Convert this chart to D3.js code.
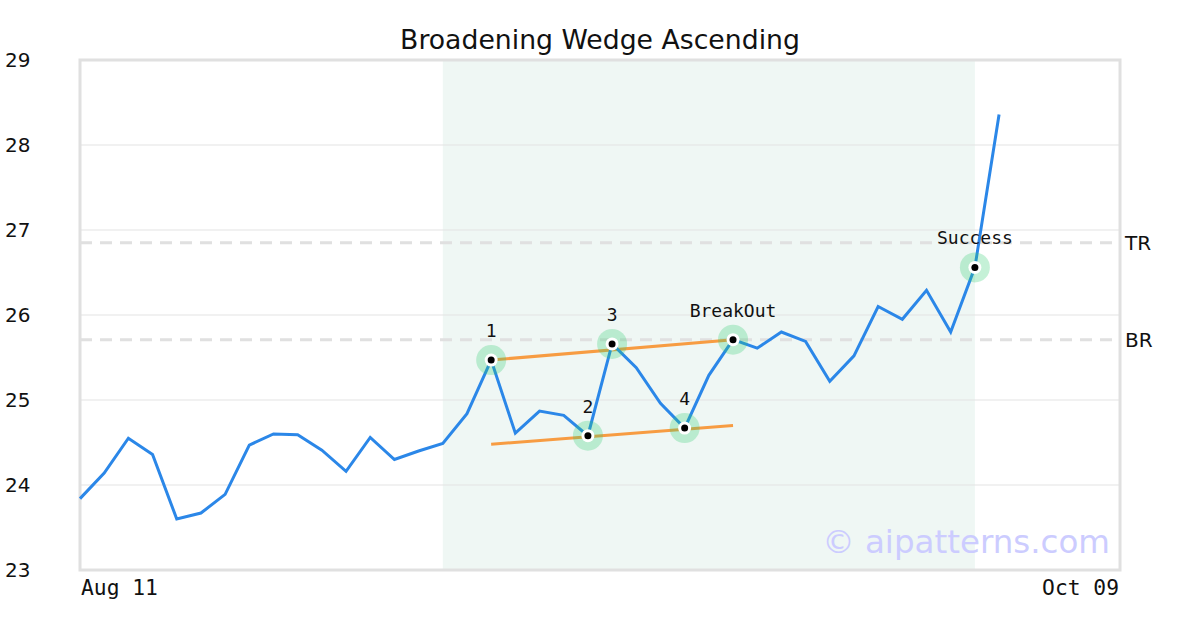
<!DOCTYPE html>
<html><head><meta charset="utf-8">
<script src="https://cdn.jsdelivr.net/npm/d3@7"></script>
<style>body{margin:0;background:#fff}svg{display:block}</style>
</head><body>
<svg id="c" width="1200" height="630"></svg>
<script>
const title = "Broadening Wedge Ascending";
const prices = [23.84,24.14,24.55,24.36,23.60,23.67,23.89,24.47,24.60,24.59,24.41,24.16,24.56,24.30,24.40,24.49,24.84,25.47,24.61,24.87,24.82,24.58,25.66,25.38,24.96,24.67,25.29,25.71,25.61,25.80,25.69,25.22,25.52,26.10,25.95,26.29,25.80,26.56,28.36];
const xDomain = [0, 43];
const yTicks = [23,24,25,26,27,28,29];
const xTickLabels = [{i:0,label:"Aug 11",anchor:"start"},{i:43,label:"Oct 09",anchor:"end"}];
const shadeRange = [15, 37];
const pivots = [{i:17,label:"1"},{i:21,label:"2"},{i:22,label:"3"},{i:25,label:"4"},{i:27,label:"BreakOut"},{i:37,label:"Success"}];
const upperLine = [{i:17,v:25.47},{i:27,v:25.71}];
const lowerLine = [{i:17,v:24.48},{i:27,v:24.70}];
const levels = [{v:26.85,label:"TR"},{v:25.71,label:"BR"}];
const watermark = "© aipatterns.com";

const svg = d3.select("#c");
const L=80,R=1120,T=60,B=570;
const x = d3.scaleLinear().domain(xDomain).range([L,R]);
const y = d3.scaleLinear().domain([23,29]).range([B,T]);

svg.append("rect").attr("x",x(shadeRange[0])).attr("y",T).attr("width",x(shadeRange[1])-x(shadeRange[0])).attr("height",B-T).attr("fill","#eff7f4");
svg.append("g").selectAll("line").data(yTicks.slice(1,-1)).join("line")
  .attr("x1",L).attr("x2",R).attr("y1",d=>y(d)).attr("y2",d=>y(d)).attr("stroke","#e3e3e3").attr("stroke-width",1);
svg.append("g").selectAll("line").data(levels).join("line")
  .attr("x1",L).attr("x2",R).attr("y1",d=>y(d.v)).attr("y2",d=>y(d.v))
  .attr("stroke","#e0e0e0").attr("stroke-width",3).attr("stroke-dasharray","12,8");
svg.append("g").selectAll("text").data(levels).join("text")
  .attr("x",R+5).attr("y",d=>y(d.v)).attr("dy","0.36em").text(d=>d.label)
  .attr("font-family","DejaVu Sans").attr("font-size",20).attr("fill","#111");
svg.append("rect").attr("x",L).attr("y",T).attr("width",R-L).attr("height",B-T).attr("fill","none").attr("stroke","#e0e0e0").attr("stroke-width",3);
svg.append("text").attr("x",1110).attr("y",553).attr("text-anchor","end").text(watermark)
  .attr("font-family","DejaVu Sans").attr("font-size",32.5).attr("fill","#ccccff");
const ln = d3.line().x(d=>x(d.i)).y(d=>y(d.v));
[upperLine,lowerLine].forEach(dd=>svg.append("path").attr("d",ln(dd)).attr("fill","none").attr("stroke","#f79c42").attr("stroke-width",3));
svg.append("path").attr("d",d3.line().x((d,i)=>x(i)).y(d=>y(d))(prices)).attr("fill","none").attr("stroke","#2b87e8").attr("stroke-width",3).attr("stroke-linejoin","miter");
const g = svg.append("g").selectAll("g").data(pivots).join("g").attr("transform",d=>`translate(${x(d.i)},${y(prices[d.i])})`);
g.append("circle").attr("r",15).attr("fill","#2ecc71").attr("fill-opacity",0.28);
g.append("circle").attr("r",6.5).attr("fill","#fff");
g.append("circle").attr("r",3.5).attr("fill","#000");
g.append("text").attr("y",-23).attr("text-anchor","middle").text(d=>d.label)
  .attr("font-family","DejaVu Sans Mono").attr("font-size",18).attr("fill","#111");
svg.append("g").selectAll("text").data(yTicks).join("text")
  .attr("x",5).attr("y",d=>y(d)).attr("dy","0.36em").text(d=>d)
  .attr("font-family","DejaVu Sans").attr("font-size",20).attr("fill","#111");
svg.append("g").selectAll("text").data(xTickLabels).join("text")
  .attr("x",d=>d.anchor==="start"?x(d.i)+1:x(d.i)-1).attr("y",595).attr("text-anchor",d=>d.anchor).text(d=>d.label)
  .attr("font-family","DejaVu Sans Mono").attr("font-size",21.3).attr("fill","#111");
svg.append("text").attr("x",600).attr("y",49).attr("text-anchor","middle").text(title)
  .attr("font-family","DejaVu Sans").attr("font-size",26.7).attr("fill","#111");
</script>
</body></html>
